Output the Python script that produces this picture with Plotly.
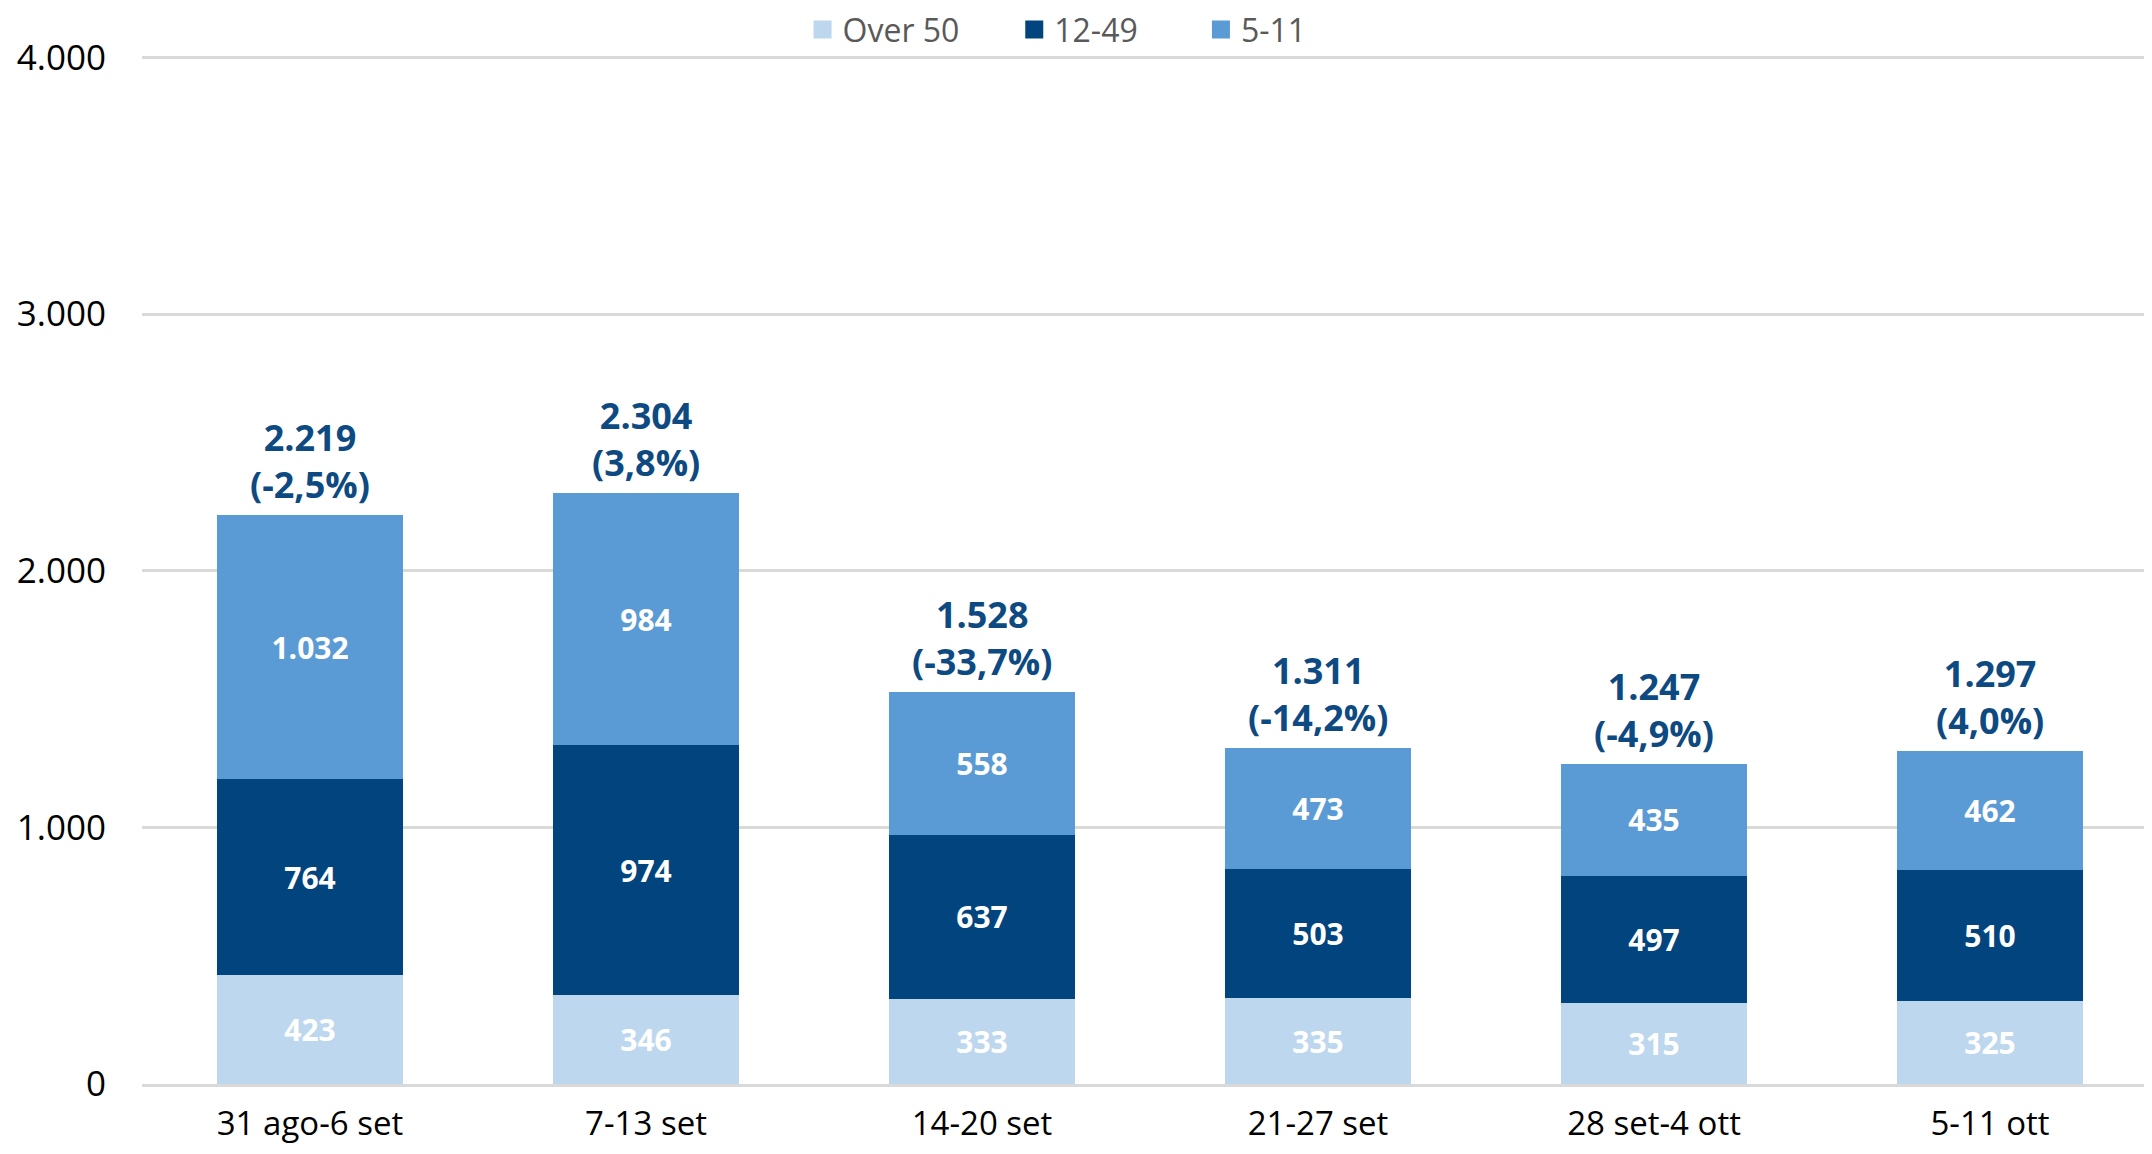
import plotly.graph_objects as go

categories = ["31 ago-6 set", "7-13 set", "14-20 set", "21-27 set", "28 set-4 ott", "5-11 ott"]
over50 = [423, 346, 333, 335, 315, 325]
age12_49 = [764, 974, 637, 503, 497, 510]
age5_11 = [1032, 984, 558, 473, 435, 462]
pct_change = ["-2,5%", "3,8%", "-33,7%", "-14,2%", "-4,9%", "4,0%"]
y_ticks = [0, 1000, 2000, 3000, 4000]

FONT = "Open Sans"
C_OVER50 = "#BDD7EE"
C_12_49 = "#02447E"
C_5_11 = "#5B9BD5"
C_TOTAL = "#0E4A82"
NB = "\u00a0"


def it(v):
    return f"{v:,}".replace(",", ".")


totals = [a + b + c for a, b, c in zip(over50, age12_49, age5_11)]

series = [
    ("Over 50", over50, C_OVER50, NB * 6),
    ("12-49", age12_49, C_12_49, NB * 7),
    ("5-11", age5_11, C_5_11, ""),
]

fig = go.Figure()
for name, vals, col, pad in series:
    fig.add_trace(go.Bar(
        x=categories, y=vals, name=name, legendgroup=name, showlegend=False,
        marker=dict(color=col, line=dict(width=0)),
        text=[it(v) for v in vals], textposition="inside", insidetextanchor="middle",
        textangle=0,
        textfont=dict(family=FONT, size=30, color="white", weight="bold"),
        hovertemplate=name + ": %{y}<extra></extra>",
    ))

# legend entries with larger square swatches
for name, vals, col, pad in series:
    fig.add_trace(go.Scatter(
        x=[None], y=[None], mode="markers", name=name + pad, legendgroup=name,
        marker=dict(symbol="square", size=16, color=col, line=dict(color=col, width=2)),
        showlegend=True, hoverinfo="skip",
    ))

for cat, tot, pc in zip(categories, totals, pct_change):
    fig.add_annotation(
        x=cat, y=tot, xref="x", yref="y", yanchor="bottom", yshift=4,
        text=f"<b>{it(tot)}<br>({pc})</b>", showarrow=False,
        font=dict(family=FONT, size=36, color=C_TOTAL),
    )

fig.update_layout(
    width=2144, height=1138,
    barmode="stack", bargap=0.447,
    plot_bgcolor="white", paper_bgcolor="white",
    margin=dict(l=134, r=0, t=47, b=62, autoexpand=False),
    font=dict(family=FONT, color="#000000"),
    showlegend=True,
    legend=dict(orientation="h", traceorder="normal",
                xref="container", yref="container", x=0.4893, y=0.981,
                xanchor="center", yanchor="middle",
                bgcolor="rgba(0,0,0,0)",
                font=dict(family=FONT, size=32, color="#595959"),
                itemwidth=30),
    xaxis=dict(type="category", range=[-0.5, 5.482], showgrid=False,
               showline=True, linecolor="#D9D9D9", linewidth=3,
               tickfont=dict(family=FONT, size=33, color="#000000"),
               ticks="", ticklabelstandoff=8),
    yaxis=dict(range=[0, 4010], tickvals=y_ticks, ticktext=[it(v) for v in y_ticks],
               showgrid=True, gridcolor="#D9D9D9", gridwidth=3,
               zeroline=False, showline=False,
               tickfont=dict(family=FONT, size=35, color="#000000"),
               ticks="", ticklabelstandoff=35),
)

fig.write_html("out.html")
